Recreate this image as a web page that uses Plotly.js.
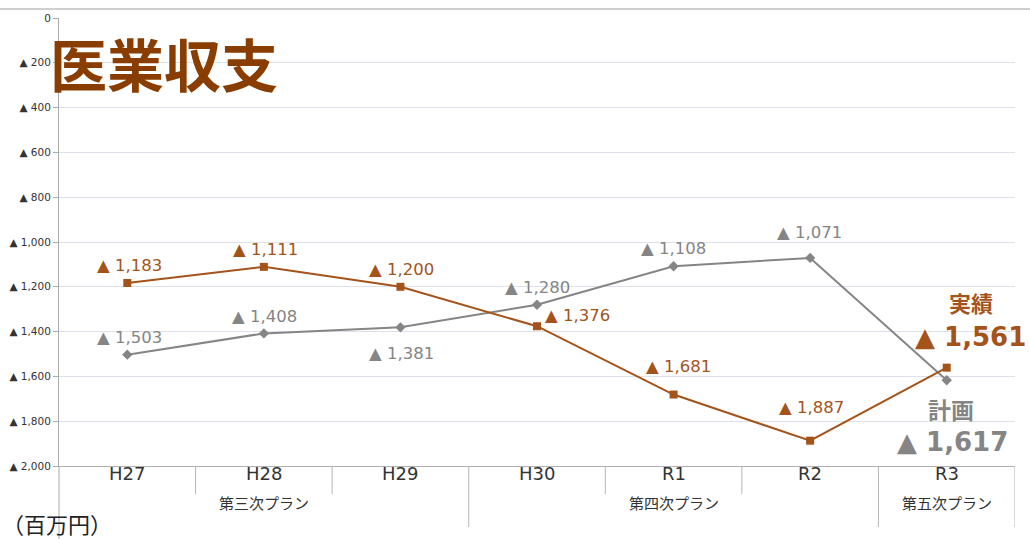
<!DOCTYPE html>
<html><head><meta charset="utf-8">
<script src="https://cdn.plot.ly/plotly-3.0.1.min.js"></script>
<style>html,body{margin:0;padding:0;background:#fff}#chart{width:1030px;height:539px}</style>
</head><body><div id="chart"></div>
<script>
const categories = ["H27","H28","H29","H30","R1","R2","R3"];
const actual = [-1183,-1111,-1200,-1376,-1681,-1887,-1561];
const plan = [-1503,-1408,-1381,-1280,-1108,-1071,-1617];
const tickVals = [0,-200,-400,-600,-800,-1000,-1200,-1400,-1600,-1800,-2000];
const tickText = ["0","▲ 200","▲ 400","▲ 600","▲ 800","▲ 1,000","▲ 1,200","▲ 1,400","▲ 1,600","▲ 1,800","▲ 2,000"];
const groups = [{name:"第三次プラン",from:0,to:2},{name:"第四次プラン",from:3,to:5},{name:"第五次プラン",from:6,to:6}];
const seriesNames = ["実績","計画"];

const brown = "#a4531b", gray = "#858585";
const numFont = "DejaVu Sans";
const fmt = v => "▲ " + Math.abs(v).toLocaleString("en-US");

const actOff = [[2,17],[2,17],[1,17],[40,11],[5,28],[1,33],[0,0]];
const planOff = [[2,17],[1,17],[1,-26],[0,17],[0,18],[-1,25],[0,0]];

const W=1030,H=539,L=59,R=15,T=18,B=73;
const pw=W-L-R, ph=H-T-B;
const py = px => -(px-(H-B))/ph;

const annotations = [];
actual.forEach((v,i)=>{ if(i<6) annotations.push({x:categories[i],y:v,xref:"x",yref:"y",text:fmt(v),showarrow:false,xshift:actOff[i][0],yshift:actOff[i][1],font:{family:numFont,size:16.5,color:brown}}); });
plan.forEach((v,i)=>{ if(i<6) annotations.push({x:categories[i],y:v,xref:"x",yref:"y",text:fmt(v),showarrow:false,xshift:planOff[i][0],yshift:planOff[i][1],font:{family:numFont,size:16.5,color:gray}}); });
annotations.push({x:categories[6],y:actual[6],xref:"x",yref:"y",text:"<b>"+seriesNames[0]+"</b>",showarrow:false,xshift:24,yshift:66,font:{family:"Noto Sans CJK JP",size:22,color:brown}});
annotations.push({x:categories[6],y:actual[6],xref:"x",yref:"y",text:"<b>"+fmt(actual[6])+"</b>",showarrow:false,xshift:24,yshift:31,font:{family:numFont,size:26,color:brown}});
annotations.push({x:categories[6],y:plan[6],xref:"x",yref:"y",text:"<b>"+seriesNames[1]+"</b>",showarrow:false,xshift:4,yshift:-29,font:{family:"Noto Sans CJK JP",size:23,color:gray}});
annotations.push({x:categories[6],y:plan[6],xref:"x",yref:"y",text:"<b>"+fmt(plan[6])+"</b>",showarrow:false,xshift:6,yshift:-62,font:{family:numFont,size:26,color:gray}});
categories.forEach((c,i)=>annotations.push({x:c,y:py(486),xref:"x",yref:"paper",text:c,showarrow:false,font:{family:numFont,size:18,color:"#333"}}));
groups.forEach(g=>annotations.push({x:(g.from+g.to)/2,y:py(515),xref:"x",yref:"paper",text:g.name,showarrow:false,font:{family:"Noto Sans CJK JP",size:15,color:"#333"}}));
annotations.push({x:-11/pw,y:1-(62-T)/ph,xref:"paper",yref:"paper",xanchor:"left",yanchor:"middle",text:"<b>医業収支</b>",showarrow:false,font:{family:"Noto Sans CJK JP",size:57,color:"#8a3d00"}});
annotations.push({x:-L/pw,y:py(523),xref:"paper",yref:"paper",xanchor:"left",yanchor:"middle",text:"（百万円）",showarrow:false,font:{family:"Noto Sans CJK JP",size:22,color:"#222"}});

const shapes = [];
for(let b=1;b<=categories.length;b++){
  const xb = b-0.5;
  let long = (b===categories.length);
  groups.forEach(g=>{ if(g.from===b) long=true; });
  shapes.push({type:"line",xref:"x",yref:"paper",x0:xb,x1:xb,y0:0,y1:long?py(527):py(494),line:{color:"#b5b5b5",width:1}});
}
shapes.push({type:"line",xref:"paper",yref:"paper",x0:0,x1:0,y0:0,y1:py(539),line:{color:"#aaa",width:1}});
shapes.push({type:"line",xref:"paper",yref:"paper",x0:-L/pw,x1:1+R/pw,y0:1+(T-9)/ph,y1:1+(T-9)/ph,line:{color:"#a0a0a0",width:1.2}});

const data = [
  {x:categories,y:plan,type:"scatter",mode:"lines+markers",name:seriesNames[1],line:{color:gray,width:2},marker:{symbol:"diamond",size:8,color:gray},cliponaxis:false},
  {x:categories,y:actual,type:"scatter",mode:"lines+markers",name:seriesNames[0],line:{color:brown,width:2},marker:{symbol:"square",size:8,color:brown},cliponaxis:false}
];
const layout = {
  width:W,height:H,margin:{l:L,r:R,t:T,b:B},paper_bgcolor:"#fff",plot_bgcolor:"#fff",showlegend:false,
  xaxis:{type:"category",range:[-0.5,6.5],showticklabels:false,showgrid:false,zeroline:false,showline:true,linecolor:"#b0b0b0",linewidth:1,ticks:""},
  yaxis:{range:[-2000,0],tickvals:tickVals,ticktext:tickText,showgrid:true,gridcolor:"#dde1ec",gridwidth:1,zeroline:false,showline:true,linecolor:"#aaa",linewidth:1,ticks:"outside",ticklen:5,tickcolor:"#aaa",tickfont:{family:numFont,size:10.5,color:"#333"}},
  annotations:annotations,shapes:shapes,
  font:{family:"Noto Sans CJK JP"}
};
Plotly.newPlot("chart",data,layout,{displayModeBar:false,staticPlot:true});
</script></body></html>
